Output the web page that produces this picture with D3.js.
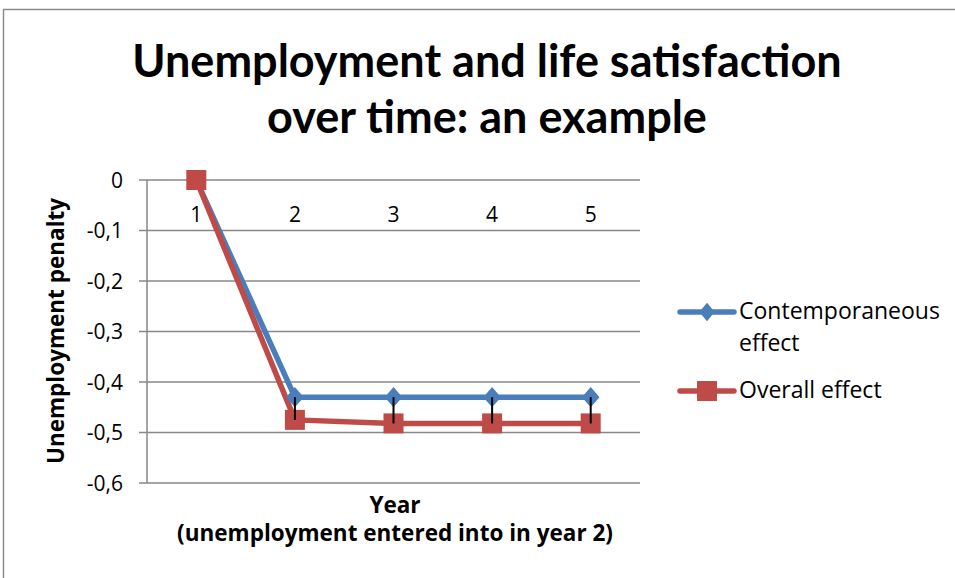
<!DOCTYPE html>
<html><head><meta charset="utf-8">
<script src="https://cdn.jsdelivr.net/npm/d3@7"></script>
<style>body{margin:0;background:#fff}svg{display:block}text{font-family:"Open Sans",sans-serif;fill:#000}</style>
</head><body><svg id="c" width="955" height="578"></svg>
<script>
const categories = ["1","2","3","4","5"];
const contemporaneous = [0, -0.43, -0.43, -0.43, -0.43];
const overall = [0, -0.475, -0.482, -0.482, -0.482];
const yTicks = [0, -0.1, -0.2, -0.3, -0.4, -0.5, -0.6];
const seriesNames = ["Contemporaneous effect", "Overall effect"];
const colors = ["#4A7EBB", "#BE4B48"];

const svg = d3.select("#c");
svg.append("path").attr("d","M3.5,578 V9.5 H955").attr("fill","none").attr("stroke","#8c8c8c").attr("stroke-width",1.5);

const x = d3.scaleBand().domain(categories).range([147, 640]);
const y = d3.scaleLinear().domain([-0.6, 0]).range([483, 180]);
const fmt = v => v === 0 ? "0" : d3.format(".1f")(v).replace(".", ",").replace("−","-");

svg.append("g").selectAll("line").data(yTicks).join("line")
  .attr("x1", 139).attr("x2", 640).attr("y1", d=>y(d)).attr("y2", d=>y(d))
  .attr("stroke","#878787").attr("stroke-width",1.5);
svg.append("line").attr("x1",147).attr("x2",147).attr("y1",y(0)).attr("y2",y(-0.6)).attr("stroke","#878787").attr("stroke-width",1.5);
svg.append("g").selectAll("text").data(yTicks).join("text")
  .attr("x", 123).attr("y", d=>y(d)+7.5).attr("text-anchor","end").attr("font-size",21)
  .text(fmt);
svg.append("g").selectAll("text").data(categories).join("text")
  .attr("x", d=>x(d)+x.bandwidth()/2).attr("y", 222).attr("text-anchor","middle").attr("font-size",21).text(d=>d);

const cx = (d,i) => x(categories[i]) + x.bandwidth()/2;
const line = d3.line().x((d,i)=>cx(d,i)).y(d=>y(d));

svg.append("path").datum(contemporaneous).attr("d", line).attr("fill","none").attr("stroke",colors[0]).attr("stroke-width",5.5).attr("stroke-linejoin","round");
svg.append("path").datum(overall).attr("d", line).attr("fill","none").attr("stroke",colors[1]).attr("stroke-width",5.5).attr("stroke-linejoin","round");

const diamond = d3.symbol().type(d3.symbolDiamond).size(120);
svg.append("g").selectAll("path").data(contemporaneous).join("path")
  .attr("d", diamond).attr("transform",(d,i)=>`translate(${cx(d,i)},${y(d)}) scale(1.5,1)`).attr("fill",colors[0]);
svg.append("g").selectAll("rect").data(overall).join("rect")
  .attr("x",(d,i)=>cx(d,i)-10).attr("y",d=>y(d)-10).attr("width",20).attr("height",20).attr("fill",colors[1]);

svg.append("g").selectAll("line").data(contemporaneous.slice(1)).join("line")
  .attr("x1",(d,i)=>cx(d,i+1)).attr("x2",(d,i)=>cx(d,i+1))
  .attr("y1",d=>y(d)).attr("y2",(d,i)=>y(overall[i+1]))
  .attr("stroke","#000").attr("stroke-width",2);

const title = svg.append("text").attr("text-anchor","middle").attr("font-weight","bold").attr("font-size",45).style("font-family","Lato");
title.append("tspan").attr("x",487).attr("y",77).text("Unemployment and life satisfaction");
title.append("tspan").attr("x",487).attr("y",133).text("over time: an example");

svg.append("text").attr("transform","translate(64,331) rotate(-90)").attr("text-anchor","middle").attr("font-weight","bold").attr("font-size",22.5).text("Unemployment penalty");
svg.append("text").attr("x",395).attr("y",513).attr("text-anchor","middle").attr("font-weight","bold").attr("font-size",22.5).text("Year");
svg.append("text").attr("x",395).attr("y",541).attr("text-anchor","middle").attr("font-weight","bold").attr("font-size",22.5).text("(unemployment entered into in year 2)");

const lg = svg.append("g");
const ly = [312, 391];
lg.selectAll("line").data(seriesNames).join("line")
  .attr("x1",680).attr("x2",734).attr("y1",(d,i)=>ly[i]).attr("y2",(d,i)=>ly[i])
  .attr("stroke",(d,i)=>colors[i]).attr("stroke-width",5.5).attr("stroke-linecap","round");
lg.append("path").attr("d",diamond).attr("transform",`translate(707,${ly[0]}) scale(1.3,0.9)`).attr("fill",colors[0]);
lg.append("rect").attr("x",697).attr("y",ly[1]-10).attr("width",20).attr("height",20).attr("fill",colors[1]);
const t1 = lg.append("text").attr("font-size",23);
t1.append("tspan").attr("x",739).attr("y",ly[0]+7).text("Contemporaneous");
t1.append("tspan").attr("x",739).attr("y",ly[0]+39).text("effect");
lg.append("text").attr("font-size",23).attr("x",739).attr("y",ly[1]+7).text(seriesNames[1]);
</script></body></html>
